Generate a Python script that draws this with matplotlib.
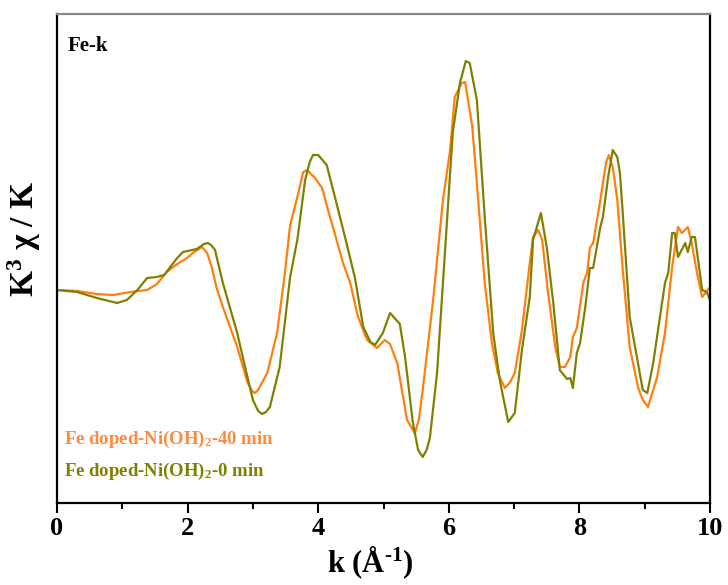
import matplotlib
matplotlib.use("Agg")
import matplotlib.pyplot as plt
from matplotlib.ticker import MultipleLocator

plt.rcParams["font.family"] = ["Liberation Serif", "DejaVu Serif"]
plt.rcParams["font.weight"] = "bold"
plt.rcParams["mathtext.fontset"] = "custom"
plt.rcParams["mathtext.rm"] = "Liberation Serif:bold"
plt.rcParams["mathtext.bf"] = "Liberation Serif:bold"
plt.rcParams["mathtext.default"] = "bf"

# k-space EXAFS, Fe K-edge (arb. units)
k_40 = [0.00, 0.31, 0.61, 0.86, 1.03, 1.23, 1.38, 1.53, 1.68, 1.84, 1.99, 2.08, 2.22,
        2.30, 2.37, 2.44, 2.54, 2.65, 2.76, 2.92, 2.99, 3.03, 3.08, 3.22, 3.37, 3.49,
        3.57, 3.68, 3.77, 3.83, 3.95, 4.06, 4.15, 4.26, 4.38, 4.49, 4.61, 4.75, 4.90,
        5.02, 5.10, 5.21, 5.36, 5.48, 5.54, 5.60, 5.76, 5.91, 6.02, 6.09, 6.20, 6.25,
        6.36, 6.45, 6.55, 6.66, 6.75, 6.86, 6.94, 7.01, 7.12, 7.24, 7.29, 7.37, 7.43,
        7.52, 7.63, 7.70, 7.78, 7.86, 7.90, 7.96, 8.06, 8.12, 8.16, 8.21, 8.32, 8.41,
        8.45, 8.51, 8.58, 8.66, 8.77, 8.90, 8.97, 9.05, 9.19, 9.31, 9.42, 9.51, 9.57,
        9.66, 9.72, 9.80, 9.88, 10.00]
chi_40 = [0, -1, -4, -5, -3, -1, 0, 6, 18, 26, 32, 37, 43,
          37, 23, 3, -17, -37, -57, -93, -101, -103, -100, -83, -43, 17,
          65, 93, 118, 120, 112, 102, 80, 55, 27, 7, -27, -50, -58,
          -50, -54, -73, -130, -143, -130, -100, -10, 90, 140, 193, 207, 208,
          163, 90, 7, -53, -83, -98, -92, -83, -40, 27, 53, 60, 50,
          -3, -57, -77, -77, -67, -47, -38, 7, 18, 42, 47, 90, 128,
          135, 123, 90, 23, -57, -98, -110, -117, -87, -43, 23, 63, 57,
          63, 47, 17, -7, 3]

k_0 = [0.00, 0.31, 0.61, 0.92, 1.07, 1.23, 1.38, 1.53, 1.64, 1.84, 1.93, 2.14, 2.25,
       2.31, 2.36, 2.42, 2.54, 2.65, 2.76, 2.88, 3.00, 3.08, 3.14, 3.20, 3.26, 3.41,
       3.57, 3.68, 3.80, 3.87, 3.92, 4.00, 4.13, 4.26, 4.41, 4.56, 4.69, 4.80, 4.87,
       4.99, 5.10, 5.25, 5.33, 5.45, 5.53, 5.60, 5.66, 5.71, 5.82, 5.91, 6.06, 6.17,
       6.26, 6.32, 6.43, 6.55, 6.68, 6.78, 6.91, 7.01, 7.12, 7.24, 7.29, 7.41, 7.50,
       7.60, 7.70, 7.81, 7.86, 7.90, 7.96, 8.01, 8.09, 8.16, 8.21, 8.32, 8.36, 8.44,
       8.51, 8.58, 8.62, 8.65, 8.77, 8.88, 8.97, 9.04, 9.13, 9.31, 9.36, 9.42, 9.46,
       9.51, 9.62, 9.66, 9.72, 9.77, 9.88, 9.95, 10.00]
chi_0 = [0, -2, -8, -13, -10, 0, 12, 13, 15, 32, 38, 41, 46,
         47, 45, 40, 7, -18, -43, -77, -110, -121, -124, -122, -117, -77,
         13, 50, 110, 128, 135, 135, 125, 92, 53, 13, -37, -52, -55,
         -43, -23, -34, -67, -133, -160, -167, -160, -148, -83, 7, 157, 207,
         229, 227, 190, 73, -43, -90, -132, -123, -60, -7, 50, 77, 43,
         -13, -80, -89, -88, -98, -63, -53, -17, 22, 22, 63, 73, 113,
         140, 133, 117, 90, -27, -67, -100, -103, -73, 7, 17, 57, 57,
         33, 47, 38, 53, 53, 0, -2, -10]

labels = ["Fe doped-Ni(OH)$_2$-40 min", "Fe doped-Ni(OH)$_2$-0 min"]
line_colors = ["#ff7f0e", "#808000"]
text_colors = ["#ff8a3d", "#808000"]

fig = plt.figure(figsize=(7.28, 5.85), dpi=100)
ax = fig.add_axes([0.0783, 0.1402, 0.8970, 0.8358])

ax.plot(k_40, chi_40, color=line_colors[0], lw=1.6)
ax.plot(k_0, chi_0, color=line_colors[1], lw=1.6)

ax.set_xlim(0, 10)
ax.set_ylim(-213, 276)
ax.set_yticks([])
ax.xaxis.set_major_locator(MultipleLocator(2))
ax.xaxis.set_minor_locator(MultipleLocator(1))
ax.tick_params(axis="x", which="major", direction="out", length=7, width=1.5,
               labelsize=19, pad=3)
ax.tick_params(axis="x", which="minor", direction="out", length=4, width=1.5)
for lab in ax.get_xticklabels():
    lab.set_fontweight("bold")

for side in ["left", "right", "bottom"]:
    ax.spines[side].set_linewidth(1.6)
ax.spines["top"].set_linewidth(1.6)
ax.spines["top"].set_color("#888888")

ax.set_xlabel(r"k (Å$^{\text{-}1}$)", fontsize=22, fontweight="bold")
ax.xaxis.set_label_coords(0.48, -0.085)
ax.set_ylabel("K$^3$ χ / K", fontsize=24, fontweight="bold")
ax.yaxis.set_label_coords(-0.022, 0.54)

ax.text(0.016, 0.955, "Fe-k", transform=ax.transAxes, fontsize=15,
        fontweight="bold", va="top", ha="left")
ax.text(0.01, 0.13, labels[0], transform=ax.transAxes, fontsize=13.5,
        fontweight="bold", color=text_colors[0], va="center", ha="left")
ax.text(0.01, 0.065, labels[1], transform=ax.transAxes, fontsize=13.5,
        fontweight="bold", color=text_colors[1], va="center", ha="left")

fig.savefig("out.png", dpi=100)
